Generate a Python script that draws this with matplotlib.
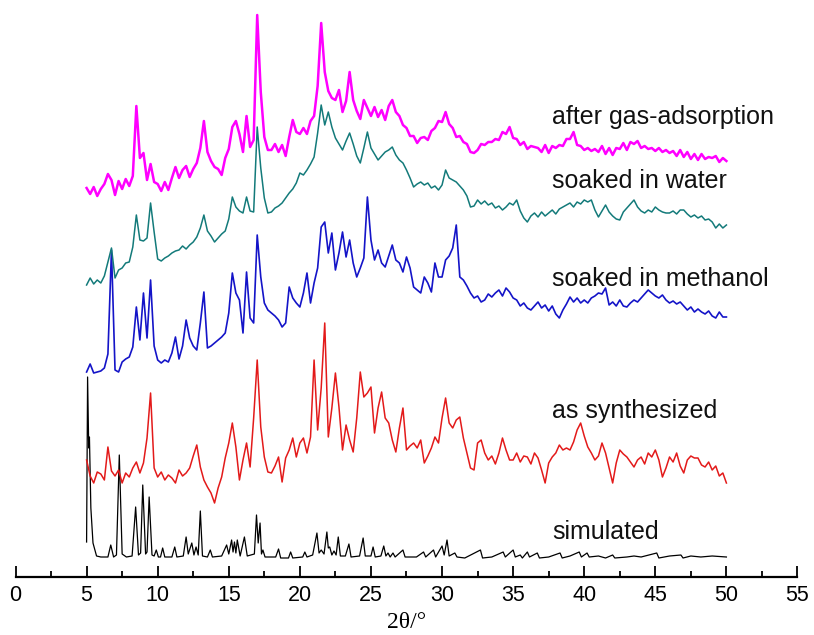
import numpy as np
import matplotlib.pyplot as plt

# 2theta grid of the measured patterns (0.25 deg steps, 5-50 deg)
two_theta = np.arange(181) * 0.25 + 5.0

# intensities (arbitrary units, already stacked)
gas_h = [380, 374, 381, 372, 379, 384, 394, 388, 373, 387, 379, 389,
         382, 392, 462, 410, 415, 388, 404, 386, 384, 377, 386, 378,
         390, 401, 390, 398, 402, 391, 399, 405, 420, 447, 416, 407,
         401, 399, 393, 410, 419, 441, 447, 434, 416, 452, 421, 428,
         553, 476, 431, 418, 418, 424, 416, 423, 412, 431, 448, 436,
         434, 440, 434, 447, 452, 482, 545, 496, 477, 470, 468, 478,
         456, 467, 496, 468, 457, 449, 468, 460, 452, 461, 451, 458,
         448, 462, 468, 456, 452, 443, 440, 432, 432, 425, 430, 431,
         428, 437, 440, 447, 446, 456, 444, 440, 431, 432, 426, 424,
         416, 415, 418, 424, 423, 426, 426, 429, 428, 436, 434, 441,
         430, 429, 423, 426, 419, 422, 421, 420, 416, 423, 415, 422,
         420, 423, 422, 429, 429, 436, 423, 422, 418, 420, 417, 419,
         416, 422, 414, 420, 413, 420, 419, 425, 418, 426, 424, 427,
         420, 422, 419, 420, 417, 420, 416, 418, 415, 417, 412, 418,
         411, 416, 409, 414, 408, 414, 409, 411, 410, 412, 406, 410,
         407]

water_h = [283, 290, 284, 288, 285, 292, 306, 320, 290, 298, 300, 305,
           306, 321, 353, 328, 327, 330, 365, 336, 309, 307, 310, 312,
           315, 317, 318, 322, 319, 323, 326, 331, 340, 353, 337, 332,
           326, 330, 334, 337, 349, 371, 361, 357, 355, 371, 357, 356,
           441, 400, 370, 355, 356, 360, 362, 365, 370, 375, 379, 385,
           395, 393, 398, 404, 411, 435, 463, 443, 456, 441, 430, 424,
           418, 427, 435, 424, 412, 405, 420, 436, 420, 414, 408, 412,
           416, 418, 421, 413, 408, 405, 398, 390, 381, 384, 386, 383,
           385, 380, 382, 378, 383, 398, 390, 388, 386, 382, 378, 372,
           361, 362, 368, 364, 367, 363, 365, 360, 362, 358, 361, 365,
           363, 368, 357, 350, 346, 352, 355, 351, 356, 352, 355, 358,
           354, 359, 361, 363, 365, 361, 366, 364, 368, 366, 368, 358,
           351, 357, 363, 356, 352, 349, 348, 356, 360, 364, 368, 361,
           357, 355, 358, 356, 361, 358, 356, 355, 355, 357, 354, 358,
           358, 354, 351, 353, 350, 352, 348, 349, 346, 340, 344, 340,
           343]

methanol_h = [196, 204, 195, 196, 197, 200, 214, 318, 198, 196, 206, 209,
              211, 221, 261, 228, 275, 230, 288, 222, 208, 205, 208, 206,
              215, 231, 209, 222, 248, 230, 222, 218, 245, 276, 220, 222,
              225, 228, 231, 235, 255, 295, 275, 268, 235, 296, 250, 245,
              333, 291, 265, 258, 255, 252, 248, 241, 245, 281, 270, 265,
              261, 275, 295, 265, 285, 300, 341, 346, 315, 335, 298, 315,
              336, 311, 328, 305, 291, 300, 310, 371, 328, 308, 318, 305,
              301, 312, 323, 308, 305, 296, 311, 300, 281, 278, 275, 291,
              285, 276, 305, 291, 291, 308, 312, 320, 343, 291, 288, 282,
              275, 270, 272, 266, 268, 274, 271, 275, 278, 272, 280, 276,
              270, 268, 262, 265, 260, 258, 262, 266, 260, 263, 257, 262,
              254, 250, 258, 264, 271, 266, 270, 265, 268, 265, 270, 272,
              275, 274, 280, 263, 266, 262, 268, 262, 261, 265, 268, 266,
              270, 274, 278, 275, 272, 270, 273, 268, 265, 267, 264, 266,
              262, 258, 261, 256, 259, 256, 254, 257, 252, 250, 256, 251,
              251]

synth_h = [108, 92, 85, 96, 94, 88, 121, 97, 92, 98, 85, 95,
           91, 100, 106, 95, 105, 130, 175, 100, 91, 96, 88, 93,
           90, 85, 98, 92, 95, 100, 112, 123, 101, 88, 81, 75,
           65, 80, 91, 110, 125, 145, 121, 88, 108, 125, 101, 150,
           208, 141, 111, 96, 95, 102, 111, 86, 110, 118, 130, 111,
           125, 130, 115, 131, 208, 138, 180, 245, 131, 160, 195, 161,
           118, 143, 128, 116, 150, 196, 171, 175, 181, 135, 160, 176,
           150, 145, 128, 116, 140, 160, 118, 122, 125, 120, 128, 105,
           112, 120, 131, 125, 150, 170, 145, 140, 148, 151, 130, 115,
           100, 98, 125, 128, 115, 108, 112, 104, 115, 130, 118, 108,
           108, 115, 106, 112, 111, 104, 115, 110, 98, 85, 105, 111,
           115, 123, 118, 120, 118, 126, 138, 145, 132, 121, 115, 108,
           112, 125, 115, 100, 85, 105, 118, 114, 111, 106, 101, 108,
           111, 104, 115, 111, 118, 108, 91, 100, 111, 106, 115, 102,
           95, 108, 112, 110, 110, 103, 101, 106, 98, 102, 92, 95,
           85]

# simulated pattern: peak tops and baseline points
sim_x = [5.0, 5.07, 5.15, 5.2, 5.3, 5.45, 5.7, 6.0, 6.5, 6.7, 6.9, 7.1, 7.3, 7.5,
         7.8, 8.2, 8.45, 8.65, 8.8, 8.95, 9.15, 9.25, 9.4, 9.6, 9.75, 9.9, 10.05,
         10.2, 10.35, 10.5, 11.0, 11.2, 11.35, 11.8, 12.0, 12.15, 12.4, 12.55,
         12.7, 12.85, 13.0, 13.15, 13.5, 13.7, 13.85, 14.5, 14.85, 15.0, 15.2,
         15.3, 15.4, 15.5, 15.6, 15.8, 16.1, 16.3, 16.8, 16.95, 17.07, 17.2,
         17.3, 17.4, 17.55, 18.3, 18.5, 18.65, 19.2, 19.35, 19.5, 20.2, 20.35,
         20.5, 20.9, 21.2, 21.35, 21.5, 21.7, 21.9, 22.0, 22.1, 22.25, 22.4,
         22.55, 22.7, 22.85, 23.2, 23.45, 23.6, 24.2, 24.45, 24.6, 25.0, 25.15,
         25.3, 25.7, 25.9, 26.05, 26.2, 26.35, 26.55, 26.7, 27.25, 27.4, 28.2,
         28.7, 28.85, 29.4, 29.55, 30.0, 30.15, 30.35, 30.5, 30.9, 31.05, 31.6,
         32.7, 32.85, 33.5, 34.3, 34.45, 35.0, 35.15, 35.5, 35.65, 36.0, 36.15,
         36.7, 36.85, 37.5, 38.3, 38.45, 39.0, 39.65, 39.8, 40.2, 40.35, 41.0,
         41.5, 42.0, 42.15, 43.0, 43.5, 44.0, 45.1, 45.25, 46.0, 46.8, 46.95,
         47.5, 48.2, 49.0, 49.9, 50.0]
sim_h = [26, 191, 120, 131, 60, 25, 12, 11, 11, 23, 11, 13, 113, 14,
         11, 12, 61, 13, 15, 83, 14, 16, 71, 13, 12, 18, 11,
         11, 20, 11, 11, 21, 11, 12, 31, 14, 25, 13,
         21, 13, 57, 12, 11, 18, 11, 12, 23, 14, 28,
         16, 26, 15, 28, 12, 31, 12, 14, 53, 25, 45,
         14, 18, 11, 11, 19, 10, 10, 16, 10, 11, 16,
         11, 13, 35, 15, 18, 14, 36, 20, 21, 13, 17,
         13, 31, 12, 12, 24, 11, 12, 30, 12, 12, 21,
         11, 12, 22, 12, 15, 11, 15, 11, 18, 11, 11,
         16, 11, 18, 11, 22, 13, 28, 12, 15, 11, 10,
         18, 10, 11, 16, 11, 18, 11, 13, 10, 16, 11,
         15, 10, 11, 15, 10, 12, 16, 11, 15, 11, 12,
         10, 13, 10, 11, 12, 11, 15, 10, 12, 13, 10,
         12, 11, 12, 11, 11]

names = ['after gas-adsorption', 'soaked in water', 'soaked in methanol',
         'as synthesized', 'simulated']
label_y = [444, 380, 282, 150, 29]

fig = plt.figure(figsize=(8.14, 6.35), dpi=100)
ax = fig.add_axes([15.5 / 814, 58 / 635, 782 / 814, 577 / 635])

ax.plot(sim_x, sim_h, color='black', lw=0.9)
ax.plot(two_theta, synth_h, color='#e31a1a', lw=1.1)
ax.plot(two_theta, methanol_h, color='#1414c8', lw=1.2)
ax.plot(two_theta, water_h, color='#137a7a', lw=1.1)
ax.plot(two_theta, gas_h, color='#ff00ff', lw=1.8)

for name, yy in zip(names, label_y):
    ax.text(37.75, yy, name, fontsize=18, family='Liberation Sans',
            va='baseline', ha='left', color='#111111')

ax.set_xlim(0, 55)
ax.set_ylim(-9, 568)
ax.set_xticks(range(0, 56, 5))
ax.set_xticks(np.arange(2.5, 55, 5), minor=True)
ax.set_yticks([])
for s in ['left', 'right', 'top']:
    ax.spines[s].set_visible(False)
ax.spines['bottom'].set_linewidth(1.6)
ax.tick_params(axis='x', which='major', direction='in', length=8, width=1.3,
               pad=6, labelsize=15.5)
ax.tick_params(axis='x', which='minor', direction='in', length=4.5, width=1.3)
for t in ax.get_xticklabels():
    t.set_family('Liberation Sans')
ax.set_xlabel('2θ/°', family='Liberation Serif', fontsize=17, labelpad=4)
ax.patch.set_visible(False)

fig.savefig('out.png', dpi=100)
